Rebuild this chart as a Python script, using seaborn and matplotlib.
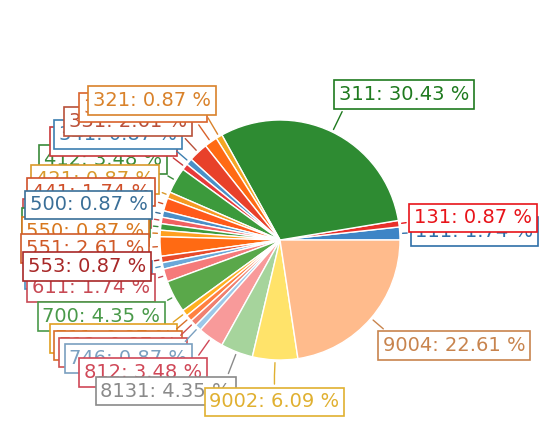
import numpy as np
import matplotlib
matplotlib.use("Agg")
import matplotlib.pyplot as plt
import seaborn as sns

# category codes and their counts (115 in total)
codes = ["111", "131", "311", "321", "322", "331", "341", "342", "412", "421",
         "441", "500", "511", "521", "550", "551", "553", "561", "611", "700",
         "711", "712", "721", "746", "812", "8131", "9002", "9004"]
counts = [2, 1, 35, 1, 2, 3, 1, 1, 4, 1,
          2, 1, 1, 1, 1, 3, 1, 1, 2, 5,
          1, 1, 1, 1, 4, 5, 7, 26]

slice_colors = ["#3d85c6", "#e8302a", "#2e8b32", "#f5a623", "#ff6a13", "#e8412a", "#4a90c8", "#e83a3a", "#3c9a3c", "#f59a23",
                "#ff5a1a", "#4a8fc6", "#f06060", "#3c9a3c", "#ffa020", "#ff6a13", "#e84a2a", "#6aa8d8", "#f57a7a", "#5aa84a",
                "#ffb020", "#ff8040", "#f08070", "#9cc8e8", "#f89a9a", "#a6d49c", "#ffe36a", "#ffbb8c"]
label_colors = ["#2f6fa8", "#e8141a", "#1f7a1f", "#d9822b", "#d9622b", "#b8503a", "#3d7fb0", "#c8383a", "#3a8a3a", "#d99a2b",
                "#d0502a", "#3a6f98", "#c84848", "#3a8a3a", "#d8781e", "#d05a28", "#a82828", "#4a90c0", "#c84a55", "#4a9a4a",
                "#e0a020", "#d8702a", "#d05050", "#7aa0c0", "#d04858", "#8a8a8a", "#e0b030", "#c8844e"]

# labels that sit on top of their neighbours
front = ["500", "553"]

pct = np.array(counts) / sum(counts) * 100

sns.set_theme(style="white")
plt.rcParams['font.family'] = ['DejaVu Sans']

fig = plt.figure(figsize=(5.5, 4.21), dpi=100)
ax = fig.add_axes([0, 0, 1, 1])
wedges, _ = ax.pie(counts, colors=slice_colors, startangle=0, counterclock=True, radius=1)
ax.set_xlim(-280 / 120, 270 / 120)
ax.set_ylim(-181 / 120, 240 / 120)
ax.axis('off')

for i, w in enumerate(wedges):
    ang = (w.theta1 + w.theta2) / 2
    c, s = np.cos(np.radians(ang)), np.sin(np.radians(ang))
    if c > 0.2:
        ha = 'left'
    elif c < -0.2:
        ha = 'right'
    else:
        ha = 'center'
    angle_a = 90 if ha == 'center' else 0
    # later labels drawn on top, except the upper-left group
    z = 200 - i if 90 < ang < 150 else 100 + i
    if codes[i] in front:
        z = 300
    ax.annotate(f"{codes[i]}: {pct[i]:.2f} %", xy=(c, s), xytext=(1.13 * c, 1.35 * s),
                ha=ha, va='center', fontsize=14, color=label_colors[i], zorder=z,
                bbox=dict(boxstyle='square,pad=0.25', fc='white', ec=label_colors[i], lw=1.2),
                arrowprops=dict(arrowstyle='-', color=label_colors[i], lw=1,
                                connectionstyle=f"angle,angleA={angle_a},angleB={ang}"))

fig.savefig("out.png", dpi=100)
plt.close(fig)
